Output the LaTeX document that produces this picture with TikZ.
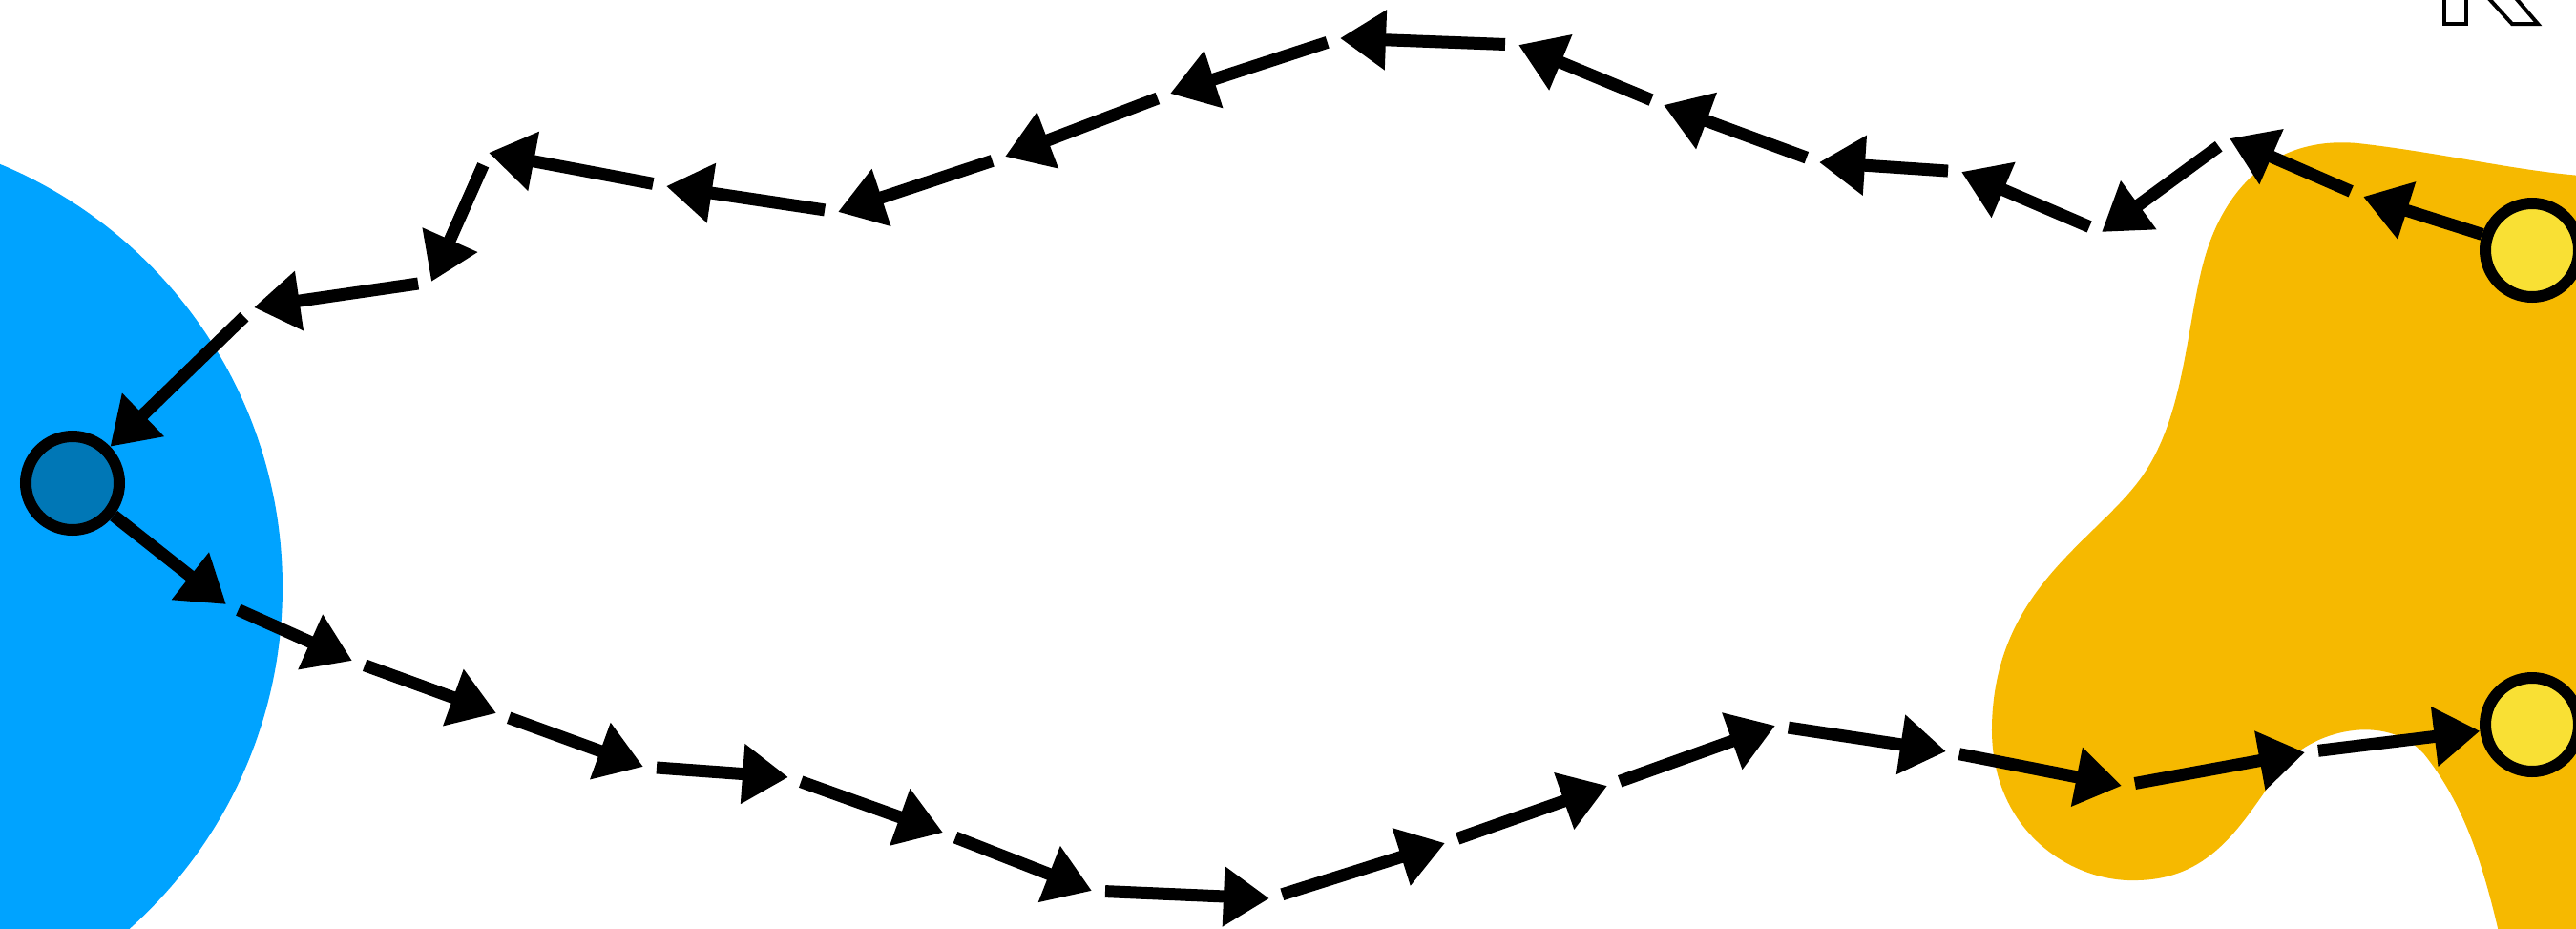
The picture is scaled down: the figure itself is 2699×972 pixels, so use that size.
\documentclass[tikz,border=0pt]{standalone}
\usepackage{tikz}
\usetikzlibrary{arrows.meta}

\definecolor{poolblue}{HTML}{00A3FF}
\definecolor{nodeblue}{HTML}{0077B6}
\definecolor{poolorange}{HTML}{F6B900}
\definecolor{nodeyellow}{HTML}{F9E034}

\tikzset{
  hop/.style={line width=13pt, -{Triangle[length=48pt,width=60pt]}},
  hopmid/.style={hop, shorten <=14pt},
  peer/.style={circle, draw, line width=12pt, minimum size=98pt, inner sep=0pt},
}

\begin{document}
\begin{tikzpicture}[x=1pt,y=-1pt]
  \clip (0,0) rectangle (2699,972);
  \fill[white] (0,0) rectangle (2699,972);

  % pools
  \fill[poolblue] (-183.5,615) circle (479.5pt);
  \fill[poolorange] (2720,185)
    .. controls (2650,182) and (2560,160) .. (2470,150)
    .. controls (2380,142) and (2330,200) .. (2310,270)
    .. controls (2290,340) and (2290,440) .. (2240,505)
    .. controls (2190,570) and (2090,620) .. (2087,760)
    .. controls (2085,870) and (2170,925) .. (2240,922)
    .. controls (2320,920) and (2350,860) .. (2390,805)
    .. controls (2420,765) and (2500,745) .. (2540,790)
    .. controls (2580,840) and (2600,900) .. (2617,972)
    -- (2620,990) -- (2720,990) -- cycle;

  % partly hidden letter
  \draw[line width=4pt, fill=white] (2561,-10) rectangle (2584,25);
  \draw[line width=4pt, fill=white] (2600,-10) -- (2632,25) -- (2659,25) -- (2629,-10) -- cycle;

  % peers
  \node[peer, fill=nodeblue] (src) at (76,506) {};
  \node[peer, fill=nodeyellow] (dstA) at (2653,262) {};
  \node[peer, fill=nodeyellow] (dstB) at (2653,759) {};

  % return trail
  \coordinate (t1) at (2476,206);
  \coordinate (t2) at (2336,145);
  \coordinate (t3) at (2202,243);
  \coordinate (t4) at (2055,180);
  \coordinate (t5) at (1906,170);
  \coordinate (t6) at (1743,110);
  \coordinate (t7) at (1591,47);
  \coordinate (t8) at (1404,40);
  \coordinate (t9) at (1226,98);
  \coordinate (t10) at (1053,164);
  \coordinate (t11) at (878,222);
  \coordinate (t12) at (698,195);
  \coordinate (t13) at (512,160);
  \coordinate (t14) at (452,295);
  \coordinate (t15) at (266,322);

  \draw[hop] (dstA) -- (t1);
  \foreach \i [count=\j from 2] in {1,...,14}
    \draw[hopmid] (t\i) -- (t\j);
  \draw[hopmid] (t15) -- (src);

  % outgoing trail
  \coordinate (b1) at (237,633);
  \coordinate (b2) at (369,692);
  \coordinate (b3) at (520,747);
  \coordinate (b4) at (674,803);
  \coordinate (b5) at (826,814);
  \coordinate (b6) at (988,872);
  \coordinate (b7) at (1144,933);
  \coordinate (b8) at (1330,941);
  \coordinate (b9) at (1514,883);
  \coordinate (b10) at (1684,823);
  \coordinate (b11) at (1860,760);
  \coordinate (b12) at (2039,787);
  \coordinate (b13) at (2223,823);
  \coordinate (b14) at (2415,788);

  \draw[hop] (src) -- (b1);
  \foreach \i [count=\j from 2] in {1,...,13}
    \draw[hopmid] (b\i) -- (b\j);
  \draw[hopmid] (b14) -- (dstB);
\end{tikzpicture}
\end{document}
